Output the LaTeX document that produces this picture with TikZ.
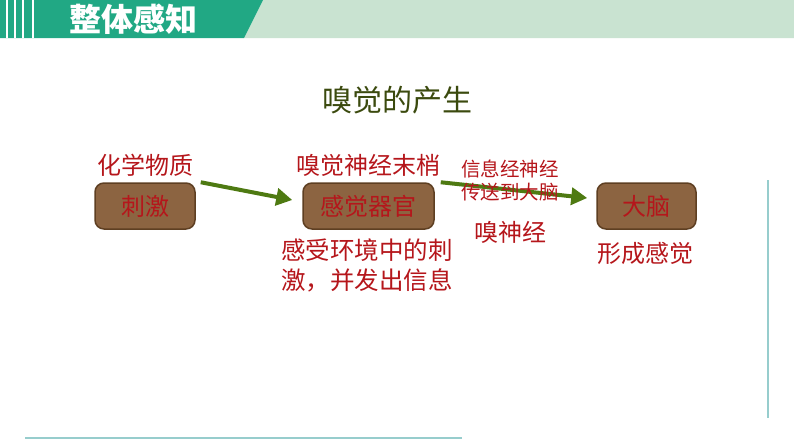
\documentclass[tikz,border=0pt]{standalone}
\usepackage{fontspec}
\usepackage{tikz}
\usetikzlibrary{arrows.meta}
\newfontfamily\cjk{Noto Sans CJK SC}
\definecolor{hdgreen}{HTML}{21A884}
\definecolor{hdpale}{HTML}{C9E3D1}
\definecolor{boxbrown}{HTML}{8C6441}
\definecolor{boxedge}{HTML}{5E3F22}
\definecolor{txtred}{HTML}{B5161B}
\definecolor{titleolive}{HTML}{3B4A0E}
\definecolor{arrowgreen}{HTML}{4E7A12}
\definecolor{rulecyan}{HTML}{97CDCD}

\begin{document}
\begin{tikzpicture}[x=1pt, y=-1pt,
        organbox/.style={draw=boxedge, line width=1.5pt, fill=boxbrown, rounded corners=9pt, text=txtred, font=\cjk\fontsize{24}{28}\selectfont, inner sep=0pt},
        redlabel/.style={text=txtred, font=\cjk\fontsize{24}{28}\selectfont, inner sep=0pt},
        flow/.style={color=arrowgreen, line width=4pt, -{Triangle[length=16pt,width=17pt]}}]
        \useasboundingbox (0,0) rectangle (794,447);
        % header bar
        \fill[color=hdpale] (263,0) -- (794,0) -- (794,38) -- (244,38) -- cycle; \fill[color=hdgreen] (0,0) -- (263,0) -- (244,38) -- (0,38) -- cycle;
        \foreach \sx in {7,15,23,33} \draw[color=white, line width=1.5pt] (\sx,0) -- (\sx,38);
        \node[text=white, font=\cjk\bfseries\fontsize{32}{36}\selectfont, inner sep=0pt] (head) at (133,19) {整体感知};

        \node[text=titleolive, font=\cjk\fontsize{30}{34}\selectfont, inner sep=0pt] (title) at (397,100) {嗅觉的产生};

        % boxes
        \node[organbox, minimum width=100pt, minimum height=46pt] (stim) at (145,206) {刺激}; \node[organbox, minimum width=131pt, minimum height=46pt] (organ) at (368.5,206) {感觉器官}; \node[organbox, minimum width=99pt, minimum height=46pt] (brain) at (646.5,206) {大脑};

        \draw[flow] ([xshift=5pt]stim.north east) -- ([xshift=-10pt,yshift=6pt]organ.west); \draw[flow] ([xshift=6pt]organ.north east) -- ([xshift=-9pt,yshift=8pt]brain.west);

        % labels
        \node[redlabel] (chem) at (145,165) {化学物质}; \node[redlabel] (ending) at (368,165) {嗅觉神经末梢};
        \node[redlabel, align=left, font=\cjk\fontsize{24.5}{30}\selectfont] (sense) at (367,265) {感受环境中的刺\\激，并发出信息};
        \node[redlabel, align=center, font=\cjk\fontsize{19.5}{23}\selectfont] (signal) at (510,181) {信息经神经\\传送到大脑};
        \node[redlabel] (nerve) at (510,232) {嗅神经}; \node[redlabel] (feel) at (645,253) {形成感觉};

        % page rules
        \draw[color=rulecyan, line width=1.5pt] (25,438) -- (462,438); \draw[color=rulecyan, line width=1.5pt] (768,180) -- (768,418);
    \end{tikzpicture}
\end{document}
